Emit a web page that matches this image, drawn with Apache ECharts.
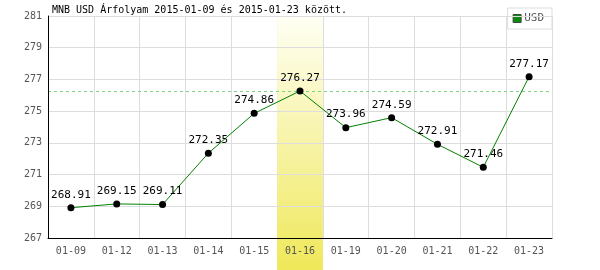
<!DOCTYPE html>
<html>
<head>
<meta charset="utf-8">
<script src="https://cdn.jsdelivr.net/npm/echarts@6/dist/echarts.min.js"></script>
<style>
  html, body { margin: 0; padding: 0; background: #fff; }
  #chart { width: 600px; height: 270px; }
</style>
</head>
<body>
<div id="chart"></div>
<script>
// MNB USD rate chart

var days = ['01-09', '01-12', '01-13', '01-14', '01-15', '01-16', '01-19', '01-20', '01-21', '01-22', '01-23'];
var usdRates = [268.91, 269.15, 269.11, 272.35, 274.86, 276.27, 273.96, 274.59, 272.91, 271.46, 277.17];
var highlightDay = '01-16';
var refLevel = 276.27;
var yMin = 267, yMax = 281, yStep = 2;

var font = 'DejaVu Sans Mono';

var myChart = echarts.init(document.getElementById('chart'));

var option = {
    animation: false,
    title: {
        text: 'MNB USD Árfolyam 2015-01-09 és 2015-01-23 között.',
        left: 52,
        top: 5,
        padding: 0,
        textStyle: { fontFamily: font, fontSize: 10, fontWeight: 'normal', color: '#000' }
    },
    legend: {
        right: 48,
        top: 8,
        padding: [5, 8, 5, 5],
        borderColor: '#ddd',
        borderWidth: 1,
        backgroundColor: '#fff',
        itemWidth: 8,
        itemHeight: 8,
        itemGap: 4,
        icon: 'rect',
        data: [{ name: 'USD', itemStyle: { color: '#0a8a0a', borderColor: '#444', borderWidth: 1 } }],
        textStyle: { fontFamily: font, fontSize: 11, color: '#555', padding: [0, 0, 0, -2] }
    },
    grid: { left: 48, right: 48, top: 16, bottom: 32 },
    xAxis: [
        {
            type: 'category',
            data: days,
            boundaryGap: true,
            axisLine: { show: false },
            axisTick: { show: false },
            axisLabel: { show: false },
            splitLine: { show: true, lineStyle: { color: '#ddd', width: 1 } },
            z: 0
        },
        {
            type: 'category',
            data: days,
            position: 'bottom',
            boundaryGap: true,
            axisLine: { show: true, lineStyle: { color: '#000', width: 1 } },
            axisTick: { show: false },
            axisLabel: { fontFamily: font, fontSize: 10, color: '#555', margin: 8 },
            splitLine: { show: false },
            z: 5
        }
    ],
    yAxis: {
        type: 'value',
        min: yMin,
        max: yMax,
        interval: yStep,
        axisLine: { show: true, lineStyle: { color: '#000', width: 1 } },
        axisTick: { show: false },
        axisLabel: { fontFamily: font, fontSize: 10, color: '#555', margin: 6 },
        splitLine: { show: true, lineStyle: { color: '#ddd', width: 1 } },
        z: 5
    },
    series: [
        {
            name: 'USD',
            type: 'line',
            xAxisIndex: 0,
            data: usdRates,
            symbol: 'circle',
            symbolSize: 7,
            itemStyle: { color: '#000' },
            lineStyle: { color: '#008000', width: 1 },
            label: {
                show: true,
                position: 'top',
                distance: 4,
                fontFamily: font,
                fontSize: 11,
                color: '#000'
            },
            z: 10
        }
    ]
};

myChart.setOption(option);

// highlighted day band and reference level, placed from the axis scales
function drawExtras() {
    var idx = days.indexOf(highlightDay);
    var a = myChart.convertToPixel({ xAxisIndex: 0 }, idx);
    var b = myChart.convertToPixel({ xAxisIndex: 0 }, idx + 1);
    var w = b - a;
    var top = myChart.convertToPixel({ yAxisIndex: 0 }, yMax);
    var h = myChart.getHeight() - top;
    var left = myChart.convertToPixel({ xAxisIndex: 0 }, 0) - w / 2;
    var right = myChart.convertToPixel({ xAxisIndex: 0 }, days.length - 1) + w / 2;
    var yRef = Math.round(myChart.convertToPixel({ yAxisIndex: 0 }, refLevel)) + 0.5;
    myChart.setOption({
        graphic: [
            {
                type: 'rect',
                z: 1,
                silent: true,
                shape: { x: a - w / 2, y: top, width: w, height: h },
                style: {
                    fill: new echarts.graphic.LinearGradient(0, 0, 0, 1, [
                        { offset: 0, color: '#fffff4' },
                        { offset: 1, color: '#efe85a' }
                    ])
                }
            },
            {
                type: 'line',
                z: 2,
                silent: true,
                shape: { x1: left, y1: yRef, x2: right, y2: yRef },
                style: { stroke: '#7fd07f', lineWidth: 1, lineDash: [3, 3] }
            }
        ]
    });
}
drawExtras();

window.addEventListener('resize', function() {
    myChart.resize();
    drawExtras();
});
</script>
</body>
</html>
